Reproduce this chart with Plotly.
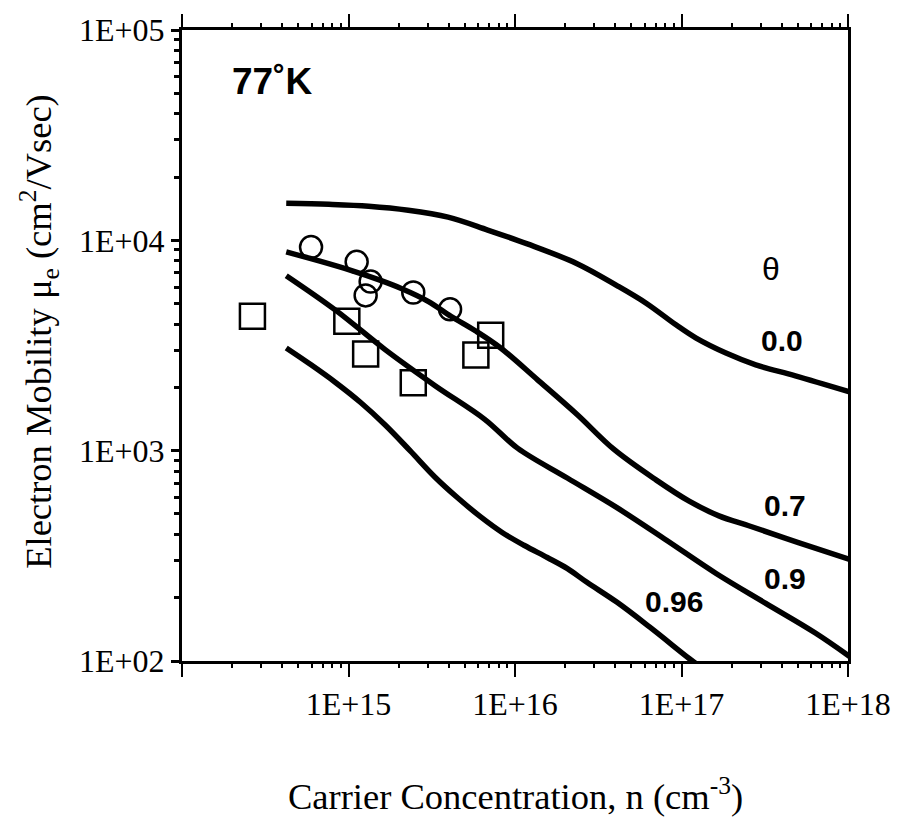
import plotly.graph_objects as go

# ---- data (log10 values) ----
theta_labels = ["0.0", "0.7", "0.9", "0.96"]

logn_00 = [14.626, 14.882, 15.121, 15.359, 15.598, 15.836, 16.074, 16.373, 16.612, 16.790,
           16.969, 17.088, 17.267, 17.446, 17.684, 18.03]
logmu_00 = [4.176, 4.171, 4.162, 4.143, 4.110, 4.049, 3.983, 3.889, 3.785, 3.700,
            3.597, 3.535, 3.464, 3.408, 3.356, 3.275]

logn_07 = [14.626, 14.823, 15.019, 15.180, 15.317, 15.478, 15.615, 15.764, 15.914, 16.134,
           16.373, 16.593, 16.849, 17.046, 17.225, 17.404, 17.702, 18.03]
logmu_07 = [3.945, 3.902, 3.856, 3.813, 3.771, 3.710, 3.639, 3.569, 3.488, 3.338,
            3.172, 3.007, 2.860, 2.760, 2.690, 2.643, 2.563, 2.478]

logn_09 = [14.626, 14.924, 15.222, 15.520, 15.818, 16.015, 16.314, 16.612, 16.910, 17.208,
           17.506, 17.804, 18.03]
logmu_09 = [3.832, 3.667, 3.479, 3.309, 3.149, 3.012, 2.870, 2.729, 2.574, 2.416,
            2.274, 2.133, 2.010]

logn_096 = [14.626, 14.775, 14.924, 15.073, 15.222, 15.371, 15.520, 15.657, 15.794, 15.925,
            16.057, 16.194, 16.313, 16.432, 16.611, 16.808, 17.046, 17.10]
logmu_096 = [3.488, 3.408, 3.323, 3.229, 3.121, 2.999, 2.874, 2.775, 2.685, 2.610,
             2.549, 2.492, 2.440, 2.374, 2.280, 2.162, 2.012, 1.98]

circ_logn = [14.775, 15.049, 15.133, 15.103, 15.389, 15.610]
circ_logmu = [3.968, 3.898, 3.804, 3.738, 3.752, 3.672]

sq_logn = [14.423, 14.990, 15.103, 15.389, 15.765, 15.854]
sq_logmu = [3.639, 3.615, 3.460, 3.323, 3.455, 3.549]

x_tickvals = [1e14, 1e15, 1e16, 1e17, 1e18]
x_ticktext = ["", "1E+15", "1E+16", "1E+17", "1E+18"]
y_tickvals = [1e2, 1e3, 1e4, 1e5]
y_ticktext = ["1E+02", "1E+03", "1E+04", "1E+05"]

def p10(v):
    return [10 ** a for a in v]

fig = go.Figure()
curves = [(logn_00, logmu_00), (logn_07, logmu_07), (logn_09, logmu_09), (logn_096, logmu_096)]
for (xs, ys), name in zip(curves, theta_labels):
    fig.add_trace(go.Scatter(x=p10(xs), y=p10(ys), mode="lines", name=name,
                             line=dict(color="black", width=5.5, shape="spline", smoothing=1.0),
                             showlegend=False, hoverinfo="skip"))

fig.add_trace(go.Scatter(x=p10(circ_logn), y=p10(circ_logmu), mode="markers",
                         marker=dict(symbol="circle-open", size=22, color="black",
                                     line=dict(color="black", width=2.5)),
                         showlegend=False))
fig.add_trace(go.Scatter(x=p10(sq_logn), y=p10(sq_logmu), mode="markers",
                         marker=dict(symbol="square-open", size=25, color="black",
                                     line=dict(color="black", width=2.5)),
                         showlegend=False))
# invisible helper trace so the overlay (minor-tick) axes get drawn
fig.add_trace(go.Scatter(x=[1e16], y=[1e3], xaxis="x2", yaxis="y2", mode="markers",
                         marker=dict(opacity=0), showlegend=False, hoverinfo="skip"))

minor_x = [m * 10 ** d for d in range(14, 18) for m in range(2, 10)]
minor_y = [m * 10 ** d for d in range(2, 5) for m in range(2, 10)]

serif = "Liberation Serif"
common = dict(showgrid=False, zeroline=False)
fig.update_layout(
    width=903, height=820,
    margin=dict(l=182, r=50, t=24, b=159),
    paper_bgcolor="white", plot_bgcolor="white",
    font=dict(family=serif, color="black"),
    xaxis=dict(type="log", range=[14, 18], tickvals=x_tickvals, ticktext=x_ticktext,
               ticks="outside", ticklen=13, tickwidth=2, tickcolor="black",
               showline=True, linewidth=3, linecolor="black", mirror="ticks",
               tickfont=dict(family=serif, size=32, color="black"), **common),
    xaxis2=dict(type="log", range=[14, 18], overlaying="x", side="bottom", anchor="y2",
                tickvals=minor_x, showticklabels=False,
                ticks="outside", ticklen=6, tickwidth=2, tickcolor="black",
                showline=False, mirror="ticks", **common),
    yaxis=dict(type="log", range=[2, 5], tickvals=y_tickvals, ticktext=y_ticktext,
               ticks="outside", ticklen=8, tickwidth=2.5, tickcolor="black",
               showline=True, linewidth=3, linecolor="black", mirror=True,
               tickfont=dict(family=serif, size=32, color="black"), **common),
    yaxis2=dict(type="log", range=[2, 5], overlaying="y", side="left", anchor="x2",
                tickvals=minor_y, showticklabels=False,
                ticks="outside", ticklen=7, tickwidth=2.5, tickcolor="black",
                showline=False, **common),
)

ann = []
ann.append(dict(text="Carrier Concentration, n (cm<sup>-3</sup>)", xref="paper", yref="paper",
                x=0.5, y=-0.21, xanchor="center", yanchor="middle", showarrow=False,
                font=dict(family=serif, size=36.5, color="black")))
ann.append(dict(text="Electron Mobility μ<sub>e</sub> (cm<sup>2</sup>/Vsec)", xref="paper", yref="paper",
                x=-0.216, y=0.522, xanchor="center", yanchor="middle", textangle=-90, showarrow=False,
                font=dict(family=serif, size=36.5, color="black")))
ann.append(dict(text="<b>77˚K</b>", xref="paper", yref="paper", x=(273 - 182) / 671, y=(661 - 76) / 637,
                xanchor="center", yanchor="middle", showarrow=False,
                font=dict(family="Liberation Sans", size=37, color="black")))
ann.append(dict(text="θ", xref="paper", yref="paper", x=(775 - 182) / 671, y=(661 - 265) / 637,
                xanchor="center", yanchor="middle", showarrow=False,
                font=dict(family="Liberation Sans", size=32, color="black")))
label_pos = [(787, 337), (790, 504), (790, 578), (678, 601)]
for t, (px, py) in zip(theta_labels, label_pos):
    ann.append(dict(text="<b>" + t + "</b>", xref="paper", yref="paper",
                    x=(px - 182) / 671, y=(661 - py) / 637,
                    xanchor="center", yanchor="middle", showarrow=False,
                    font=dict(family="Liberation Sans", size=30, color="black")))
fig.update_layout(annotations=ann)

fig.write_html("out.html")
